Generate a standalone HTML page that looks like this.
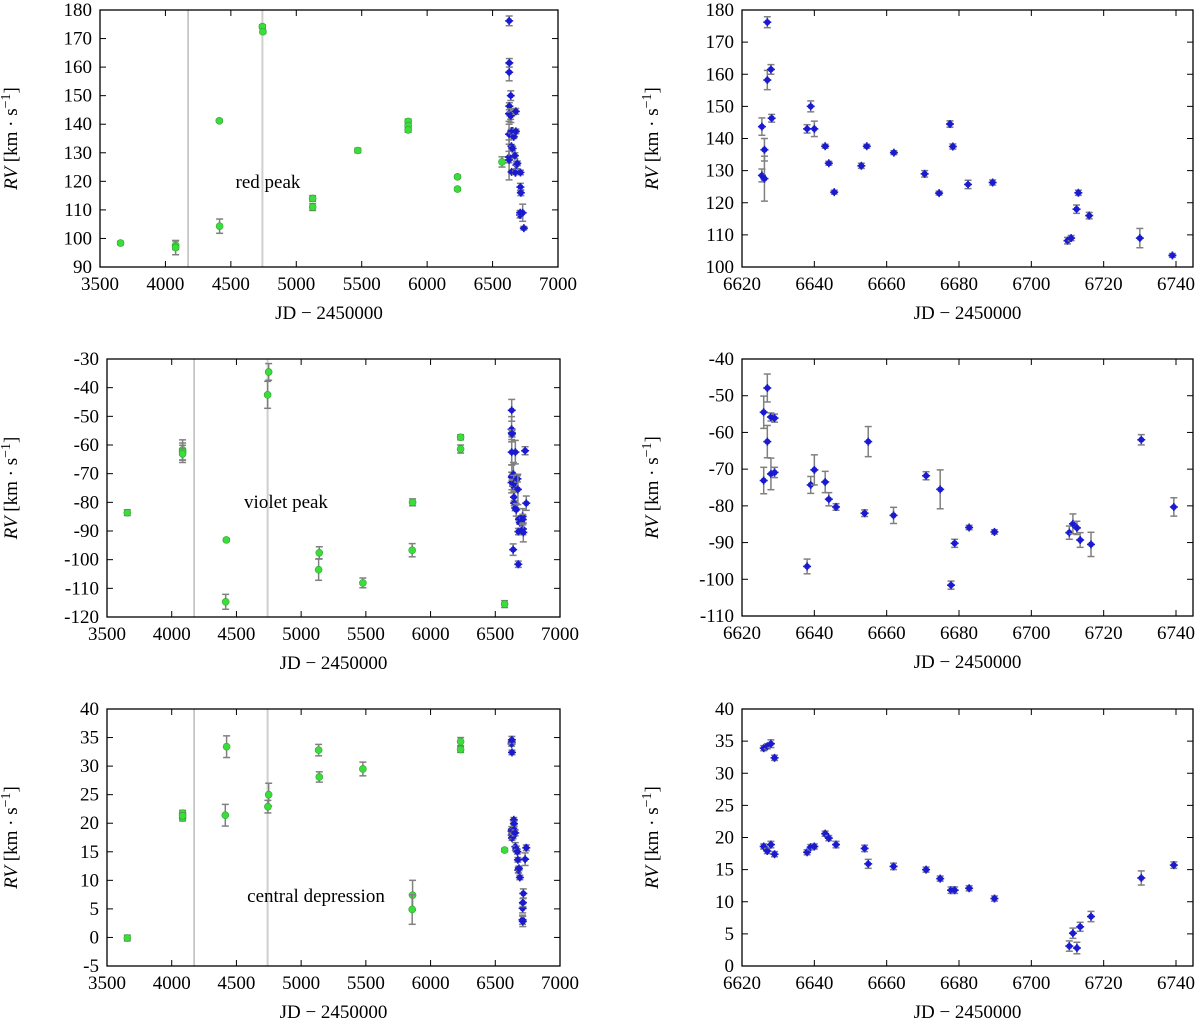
<!DOCTYPE html>
<html><head><meta charset="utf-8">
<style>
html,body{margin:0;padding:0;background:#fff;}
svg{display:block;}
svg text{font-family:"Liberation Serif","DejaVu Serif",serif;}
</style></head>
<body>
<svg id="c" width="1200" height="1026" viewBox="0 0 1200 1026" xmlns="http://www.w3.org/2000/svg" font-family="Liberation Serif, serif"></svg>
<script>
// ---------- data ----------
// Row 1 (red peak)
const redGreenJD  = [3657,4078,4078,4412,4414,4741,4745,5125,5125,5470,5855,5855,5855,6232,6232,6572];
const redGreenRV  = [98.4,97.6,96.8,141.2,104.3,174.2,172.4,114,111,130.8,141,139.5,138,121.6,117.3,126.8];
const redGreenErr = [0.6,1.5,2.5,0.5,2.5,0.6,0.6,1,1.2,0.8,0.8,0.8,0.8,0.5,0.5,1.8];
const redBlueJD   = [6625.5,6625.5,6626.2,6626.2,6627,6627,6628,6628.2,6638,6639,6640,6643,6644,6645.5,6653,6654.5,6662,6670.5,6674.5,6677.5,6678.3,6682.5,6689.3,6710,6711,6712.5,6713,6716,6730,6739];
const redBlueRV   = [143.7,128.5,136.5,127.5,176.2,158.2,161.5,146.3,143,150,143,137.6,132.3,123.3,131.5,137.6,135.6,129,123,144.5,137.5,125.7,126.3,108.2,109,118,123.1,116,109,103.6];
const redBlueErr  = [2.7,2,3.5,7,1.7,3,1.5,1.2,1.3,1.7,2.4,0.6,0.6,0.6,0.8,0.6,0.6,1,0.6,1,0.8,1.3,0.8,1,0.8,1.3,0.8,1,3,0.6];
// Row 2 (violet peak)
const vioGreenJD  = [3657,4084,4084,4084,4422,4417,4749,4741,5140,5135,5477,5861,5858,6232,6232,6572];
const vioGreenRV  = [-83.6,-61.7,-62.3,-63.1,-93.1,-114.7,-34.5,-42.5,-97.6,-103.5,-108.1,-80,-96.7,-57.3,-61.4,-115.5];
const vioGreenErr = [1,3.5,3,3,0.5,2.6,2.9,4.7,2.1,3.7,1.7,1.2,2.3,0.9,1.4,1.2];
const vioBlueJD   = [6626,6626,6627,6627,6628,6628,6629,6629,6638,6639,6640,6643,6644,6646,6653.9,6654.9,6661.9,6670.9,6674.8,6677.8,6678.8,6682.8,6689.8,6710.5,6711.5,6712.6,6713.5,6716.5,6730.4,6739.4];
const vioBlueRV   = [-73.1,-54.5,-47.9,-62.5,-71.3,-55.8,-56.1,-70.9,-96.5,-74.3,-70.2,-73.5,-78.2,-80.3,-82,-62.5,-82.6,-71.8,-75.5,-101.6,-90.2,-85.9,-87.1,-87.3,-84.9,-86,-89.3,-90.5,-62,-80.3];
const vioBlueErr  = [3.6,4.4,3.8,4.4,4.3,1.1,1.1,1.4,2,2.3,4.1,2.9,1.8,0.9,0.9,4.1,2.2,1.1,5.3,1.1,1.1,0.6,0.6,1.8,2.7,1.8,2,3.3,1.4,2.5];
// Row 3 (central depression)
const cenGreenJD  = [3657,4084,4084,4084,4424,4414,4749,4743,5135,5140,5477,5861,5858,6232,6232,6572];
const cenGreenRV  = [-0.1,21.75,20.9,21.3,33.4,21.4,25,22.9,32.8,28.1,29.5,7.4,4.9,34.3,32.9,15.3];
const cenGreenErr = [0.5,0.5,0.5,0.5,1.9,1.9,2,1.1,1,0.9,1.2,2.6,2.6,0.7,0.5,0.3];
const cenBlueJD   = [6626,6627,6628,6629,6626,6627,6628,6629,6638,6639,6640,6643,6644,6646,6653.9,6654.9,6661.9,6670.9,6674.8,6677.8,6678.8,6682.8,6689.8,6710.5,6711.5,6712.6,6713.5,6716.5,6730.4,6739.4];
const cenBlueRV   = [33.9,34.2,34.6,32.4,18.6,17.9,18.9,17.4,17.7,18.5,18.6,20.6,19.9,18.9,18.3,15.9,15.5,15,13.6,11.8,11.8,12.1,10.5,3.1,5.1,2.8,6.1,7.7,13.7,15.7];
const cenBlueErr  = [0.4,0.4,0.6,0.4,0.4,0.4,0.5,0.4,0.4,0.4,0.4,0.4,0.4,0.5,0.5,0.7,0.5,0.4,0.4,0.5,0.5,0.4,0.4,0.8,0.8,0.9,0.7,0.8,1.1,0.5];
// Axis ticks
const leftXTicks  = [3500,4000,4500,5000,5500,6000,6500,7000];
const rightXTicks = [6620,6640,6660,6680,6700,6720,6740];
const redLeftYTicks  = [90,100,110,120,130,140,150,160,170,180];
const redRightYTicks = [100,110,120,130,140,150,160,170,180];
const vioLeftYTicks  = [-120,-110,-100,-90,-80,-70,-60,-50,-40,-30];
const vioRightYTicks = [-110,-100,-90,-80,-70,-60,-50,-40];
const cenLeftYTicks  = [-5,0,5,10,15,20,25,30,35,40];
const cenRightYTicks = [0,5,10,15,20,25,30,35,40];
const epochLines = [4173,4741];

// ---------- drawing ----------
const NS="http://www.w3.org/2000/svg";
const svg=document.getElementById('c');
const FONT='Liberation Serif, DejaVu Serif, serif';
function mk(tag,attrs,parent){const e=document.createElementNS(NS,tag);for(const k in attrs)e.setAttribute(k,attrs[k]);if(tag==='text')e.setAttribute('font-family',FONT);(parent||svg).appendChild(e);return e;}

function panel(cfg){
  const g=mk('g',{});
  
  
  const {x0,x1,y0,y1,xmin,xmax,ymin,ymax}=cfg;
  const X=v=>x0+(v-xmin)/(xmax-xmin)*(x1-x0);
  const Y=v=>y1-(v-ymin)/(ymax-ymin)*(y1-y0);
  if(cfg.lines){cfg.lines.forEach((l,i)=>{
    const ln=mk('line',{x1:X(l),x2:X(l),y1:y0,y2:y1,stroke:i?'#cfcfcf':'#aaaaaa','stroke-width':i?2:1.2},g);
    
    
  });}
  if(cfg.note){const t=mk('text',{x:cfg.note[1],y:cfg.note[2],'font-size':19,'text-anchor':'middle',fill:'#000'},g);t.textContent=cfg.note[0];
    
    }
  const fr=mk('rect',{x:x0,y:y0,width:x1-x0,height:y1-y0,fill:'none',stroke:'#000','stroke-width':1.3},g);
  
  
  cfg.xt.forEach(v=>{const px=X(v);
    mk('line',{x1:px,x2:px,y1:y1,y2:y1-6,stroke:'#000','stroke-width':1},g);
    mk('line',{x1:px,x2:px,y1:y0,y2:y0+6,stroke:'#000','stroke-width':1},g);
    const t=mk('text',{x:px,y:y1+23,'font-size':19,'text-anchor':'middle'},g);t.textContent=v;
    
    
  });
  cfg.yt.forEach(v=>{const py=Y(v);
    mk('line',{x1:x0,x2:x0+6,y1:py,y2:py,stroke:'#000','stroke-width':1},g);
    mk('line',{x1:x1,x2:x1-6,y1:py,y2:py,stroke:'#000','stroke-width':1},g);
    const t=mk('text',{x:x0-8,y:py+6,'font-size':19,'text-anchor':'end'},g);t.textContent=v<0?'-'+(-v):v;
    
    
  });
  const xl=mk('text',{x:(x0+x1)/2,y:y1+52,'font-size':19,'text-anchor':'middle'},g);
  xl.textContent='JD \u2212 2450000';
  
  
  const yc=(y0+y1)/2;
  const yl=mk('text',{x:0,y:0,'font-size':19,'text-anchor':'middle',transform:`translate(${cfg.ylx},${yc}) rotate(-90)`},g);
  yl.innerHTML='<tspan font-style="italic">RV</tspan> [km \u00b7 s<tspan dy="-7" font-size="14">\u22121</tspan><tspan dy="7">]</tspan>';
  
  
  function series(jd,rv,er,kind){
    for(let i=0;i<jd.length;i++){
      if(jd[i]<xmin||jd[i]>xmax)continue;
      const px=X(jd[i]),py=Y(rv[i]),ya=Y(rv[i]+er[i]),yb=Y(rv[i]-er[i]);
      const eg=mk('g',{},g);
      
      
      mk('line',{x1:px,x2:px,y1:ya,y2:yb,stroke:'#808080','stroke-width':1.5},eg);
      mk('line',{x1:px-3.5,x2:px+3.5,y1:ya,y2:ya,stroke:'#808080','stroke-width':1.5},eg);
      mk('line',{x1:px-3.5,x2:px+3.5,y1:yb,y2:yb,stroke:'#808080','stroke-width':1.5},eg);
      if(kind==='green'){
        mk('circle',{cx:px,cy:py,r:3.5,fill:'#3ddc3d',stroke:'#2aa82a','stroke-width':0.6},eg);
      }else{
        mk('circle',{cx:px,cy:py,r:3,fill:'#1a1ad0'},eg);
        mk('line',{x1:px-4,x2:px+4,y1:py,y2:py,stroke:'#1a1ad0','stroke-width':1.6},eg);
        mk('line',{x1:px,x2:px,y1:py-4,y2:py+4,stroke:'#1a1ad0','stroke-width':1.6},eg);
      }
    }
  }
  if(cfg.green)series(cfg.green[0],cfg.green[1],cfg.green[2],'green');
  series(cfg.blue[0],cfg.blue[1],cfg.blue[2],'blue');
}

panel({name:'red-peak-full-panel',x0:100,x1:558,y0:10,y1:267,xmin:3500,xmax:7000,ymin:90,ymax:180,xt:leftXTicks,yt:redLeftYTicks,ylx:17,lines:epochLines,note:['red peak',268,188],
  green:[redGreenJD,redGreenRV,redGreenErr],blue:[redBlueJD,redBlueRV,redBlueErr]});
panel({name:'red-peak-zoom-panel',x0:742,x1:1193,y0:10,y1:267,xmin:6620,xmax:6744.7,ymin:100,ymax:180,xt:rightXTicks,yt:redRightYTicks,ylx:658,
  blue:[redBlueJD,redBlueRV,redBlueErr]});
panel({name:'violet-peak-full-panel',x0:107,x1:560,y0:359,y1:617,xmin:3500,xmax:7000,ymin:-120,ymax:-30,xt:leftXTicks,yt:vioLeftYTicks,ylx:17,lines:epochLines,note:['violet peak',286,508],
  green:[vioGreenJD,vioGreenRV,vioGreenErr],blue:[vioBlueJD,vioBlueRV,vioBlueErr]});
panel({name:'violet-peak-zoom-panel',x0:742,x1:1193,y0:359,y1:616,xmin:6620,xmax:6744.7,ymin:-110,ymax:-40,xt:rightXTicks,yt:vioRightYTicks,ylx:658,
  blue:[vioBlueJD,vioBlueRV,vioBlueErr]});
panel({name:'central-depression-full-panel',x0:107,x1:560,y0:709,y1:966,xmin:3500,xmax:7000,ymin:-5,ymax:40,xt:leftXTicks,yt:cenLeftYTicks,ylx:17,lines:epochLines,note:['central depression',316,902],
  green:[cenGreenJD,cenGreenRV,cenGreenErr],blue:[cenBlueJD,cenBlueRV,cenBlueErr]});
panel({name:'central-depression-zoom-panel',x0:742,x1:1193,y0:709,y1:966,xmin:6620,xmax:6744.7,ymin:0,ymax:40,xt:rightXTicks,yt:cenRightYTicks,ylx:658,
  blue:[cenBlueJD,cenBlueRV,cenBlueErr]});
</script>
</body></html>
